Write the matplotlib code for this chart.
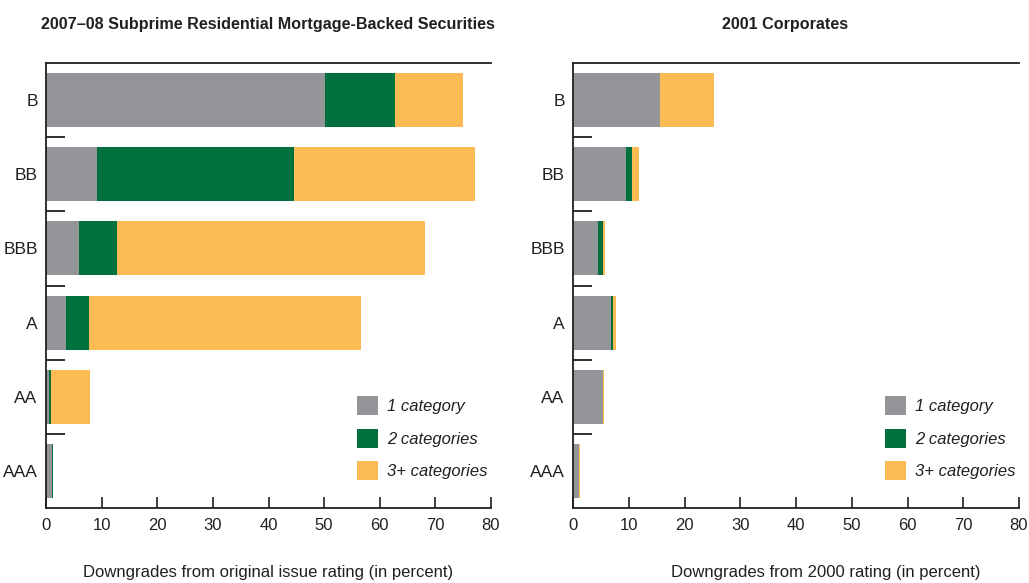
import matplotlib
matplotlib.use("Agg")
import matplotlib.pyplot as plt
import numpy as np
from matplotlib.patches import Patch

ratings = ["B", "BB", "BBB", "A", "AA", "AAA"]
series_names = ["1 category", "2 categories", "3+ categories"]

rmbs_one = [50.1, 9.2, 5.9, 3.6, 0.5, 1.0]
rmbs_two = [12.6, 35.3, 6.8, 4.1, 0.4, 0.2]
rmbs_three = [12.3, 32.7, 55.5, 48.9, 7.0, 0.0]

corp_one = [15.6, 9.5, 4.5, 6.9, 5.4, 1.1]
corp_two = [0.0, 1.1, 0.8, 0.3, 0.0, 0.0]
corp_three = [9.7, 1.3, 0.4, 0.5, 0.1, 0.1]

titles = ["2007\u201308 Subprime Residential Mortgage-Backed Securities", "2001 Corporates"]
xlabels = ["Downgrades from original issue rating (in percent)",
           "Downgrades from 2000 rating (in percent)"]
xticks = [0, 10, 20, 30, 40, 50, 60, 70, 80]

colors = ["#939598", "#00703C", "#FDBB55"]
edge = "#231f20"
text_color = "#231f20"

plt.rcParams["font.family"] = ["Liberation Sans", "DejaVu Sans"]
plt.rcParams["text.color"] = text_color

W, H = 1029, 583
fig = plt.figure(figsize=(W / 100, H / 100), dpi=100)
ax1 = fig.add_axes([46/W, 1-508/H, 445/W, 445/H])
ax2 = fig.add_axes([573/W, 1-508/H, 446/W, 445/H])

datasets = [(rmbs_one, rmbs_two, rmbs_three), (corp_one, corp_two, corp_three)]
title_x = [268, 785]
xlabel_x = [268, 826]

for ax, data, title, xl, tx, lx in zip([ax1, ax2], datasets, titles, xlabels, title_x, xlabel_x):
    y = np.arange(len(ratings))
    left = np.zeros(len(ratings))
    for vals, c in zip(data, colors):
        vals = np.array(vals)
        ax.barh(y, vals, left=left, height=0.73, color=c, linewidth=0)
        left += vals
    ax.set_ylim(len(ratings) - 0.5, -0.5)
    ax.set_xlim(0, 80)
    ax.set_xticks(xticks)
    ax.set_xticklabels([str(t) for t in xticks], fontsize=12, color=text_color)
    ax.set_yticks(y)
    ax.set_yticklabels(ratings, fontsize=12.5, color=text_color)
    ax.set_yticks(np.arange(0.5, len(ratings) - 1, 1.0), minor=True)
    ax.tick_params(axis="y", which="major", length=0, pad=6)
    ax.tick_params(axis="y", which="minor", direction="in", length=14, width=1.3, color=edge)
    ax.tick_params(axis="x", which="major", direction="in", length=8, width=1.2, color=edge, pad=7)
    for s in ["left", "top", "bottom"]:
        ax.spines[s].set_color(edge)
        ax.spines[s].set_linewidth(1.3)
    ax.spines["right"].set_visible(False)
    fig.text(tx / W, 1 - 24 / H, title, fontsize=11.6, fontweight="bold", ha="center", va="center")
    fig.text(lx / W, 1 - 573 / H, xl, fontsize=12, ha="center", va="center")
    handles = [Patch(facecolor=c, edgecolor="none") for c in colors]
    ax.legend(handles, series_names, loc="lower left", bbox_to_anchor=(0.699, 0.062),
              frameon=False, prop={"style": "italic", "size": 12},
              handlelength=1.26, handleheight=1.4, handletextpad=0.55, labelspacing=0.8,
              borderaxespad=0, borderpad=0)

fig.savefig("out.png", dpi=100)
